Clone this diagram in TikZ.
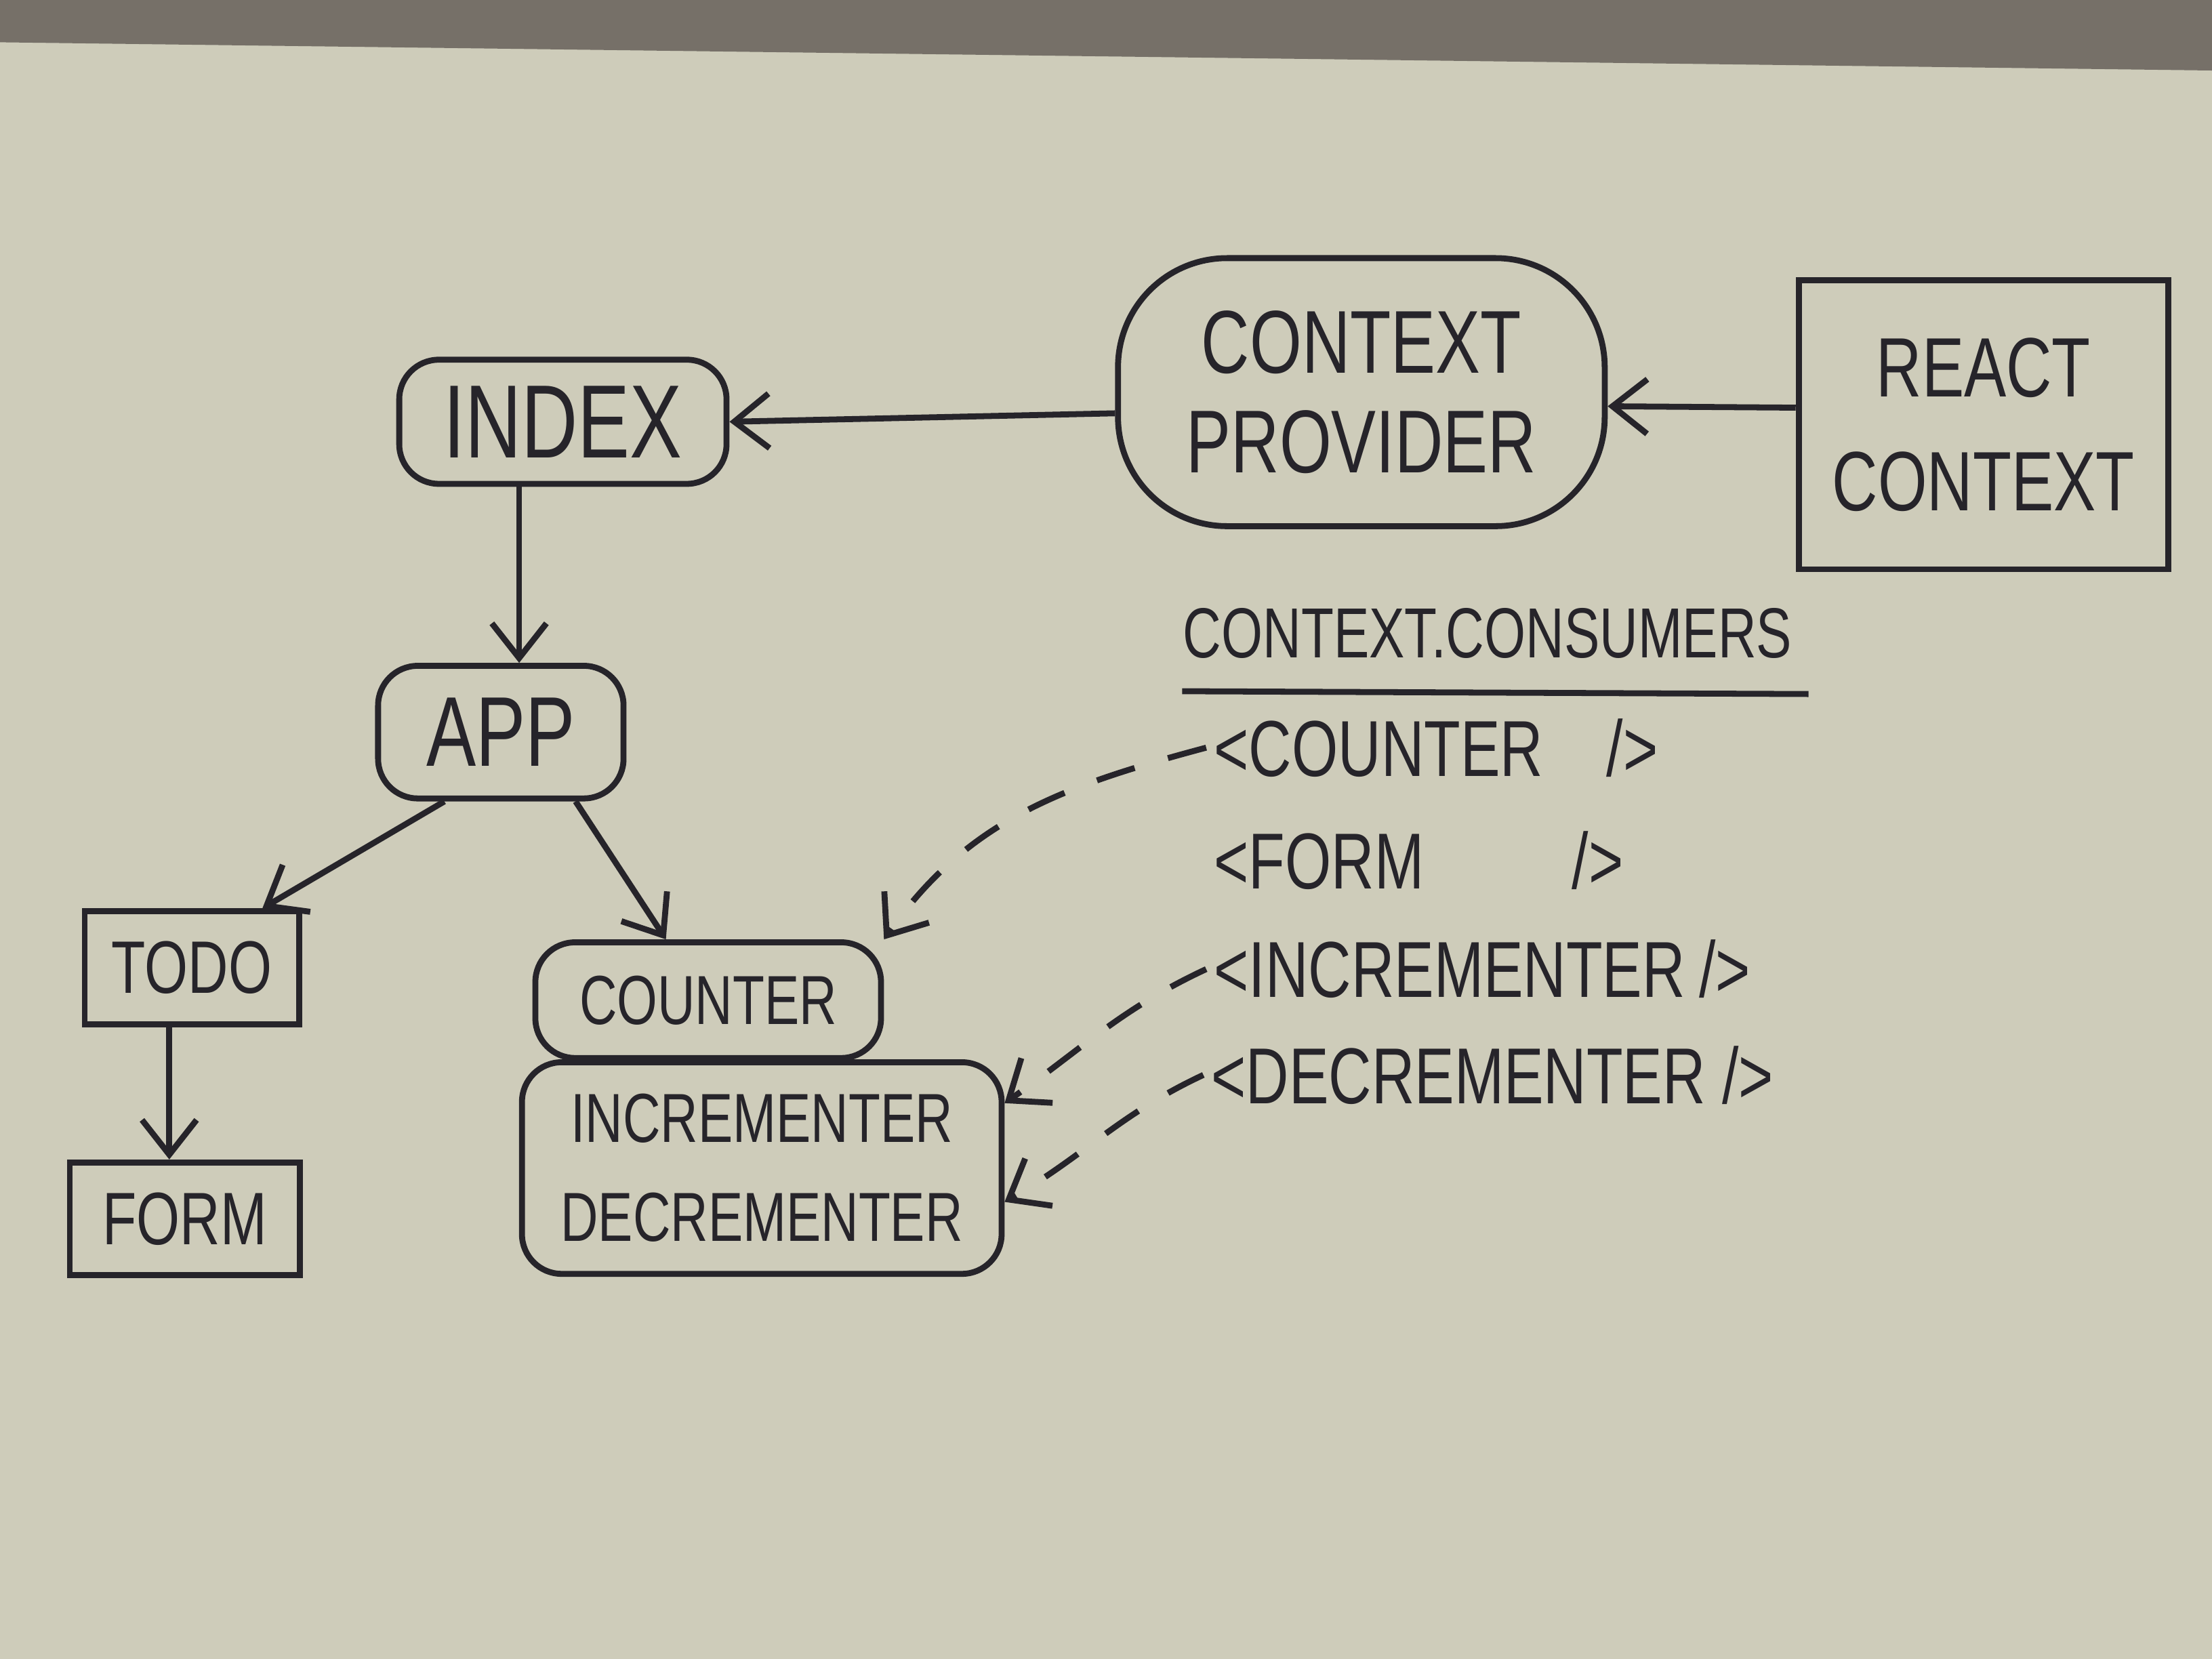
\documentclass[tikz,border=0pt]{standalone}
\usepackage{fontspec}
\setmainfont{Liberation Sans}[FakeStretch=0.75]
\usetikzlibrary{arrows.meta}
\definecolor{board}{RGB}{206,204,186}
\definecolor{frame}{RGB}{118,112,104}
\definecolor{ink}{RGB}{38,36,42}
\begin{document}
\begin{tikzpicture}[
  inkline/.style={draw=ink, line width=1.2pt},
  rbox/.style={inkline, rounded corners=8pt, inner sep=0pt, align=center, text=ink},
  sbox/.style={inkline, inner sep=0pt, align=center, text=ink},
  arr/.style={inkline, -{Straight Barb[length=7pt,width=11pt]}},
  darr/.style={arr, dash pattern=on 8pt off 7pt},
  item/.style={anchor=west, inner sep=0pt, text=ink, font=\fontsize{16}{18}\selectfont},
]
\fill[board] (0,0) rectangle (15.68,11.76);
\fill[frame] (0,11.76) -- (15.68,11.76) -- (15.68,11.26) -- (0,11.46) -- cycle;
\useasboundingbox (0,0) rectangle (15.68,11.76);

% nodes
\node[rbox, minimum width=2.32cm, minimum height=0.88cm, font=\fontsize{21}{24}\selectfont] (index) at (3.99,8.77) {INDEX};
\node[rbox, rounded corners=22pt, minimum width=3.45cm, minimum height=1.9cm, font=\fontsize{18}{20}\selectfont] (provider) at (9.65,8.98) {CONTEXT\\PROVIDER};
\node[sbox, minimum width=2.62cm, minimum height=2.05cm, font=\fontsize{17}{23}\selectfont] (react) at (14.06,8.75) {REACT\\CONTEXT};
\node[rbox, minimum width=1.74cm, minimum height=0.94cm, font=\fontsize{20}{22}\selectfont] (app) at (3.55,6.57) {APP};
\node[sbox, minimum width=1.52cm, minimum height=0.80cm, font=\fontsize{15}{17}\selectfont] (todo) at (1.36,4.90) {TODO};
\node[sbox, minimum width=1.63cm, minimum height=0.80cm, font=\fontsize{15}{17}\selectfont] (form) at (1.31,3.12) {FORM};
\node[rbox, minimum width=2.45cm, minimum height=0.82cm, font=\fontsize{14}{16}\selectfont] (counter) at (5.02,4.67) {COUNTER};
\node[rbox, minimum width=3.40cm, minimum height=1.50cm, font=\fontsize{14}{20}\selectfont] (incdec) at (5.40,3.48) {INCREMENTER\\DECREMENTER};

% consumers list
\node[anchor=west, inner sep=0pt, text=ink, font=\fontsize{14.3}{17}\selectfont] (title) at (8.38,7.27) {CONTEXT.CONSUMERS};
\coordinate (ulA) at (8.38,6.86);
\coordinate (ulB) at (12.82,6.84);
\draw[inkline] (ulA) -- (ulB);
\node[item] (c1) at (8.60,6.46) {<COUNTER\hspace{0.45cm}/>};
\node[item] (c2) at (8.60,5.66) {<FORM\hspace{1.05cm}/>};
\node[item] (c3) at (8.60,4.89) {<INCREMENTER\hspace{0.1cm}/>};
\node[item] (c4) at (8.58,4.14) {<DECREMENTER />};

% connectors
\draw[arr] ([yshift=0.12cm]react.west) -- ([yshift=-0.10cm]provider.east);
\draw[arr] ([yshift=-0.15cm]provider.west) -- (index.east);
\draw[arr] ([xshift=-0.31cm]index.south) -- ([xshift=0.13cm]app.north);
\draw[arr] ([xshift=-0.40cm]app.south) -- ([xshift=0.50cm]todo.north);
\draw[arr] ([xshift=0.53cm]app.south) -- ([xshift=-0.30cm]counter.north);
\draw[arr] ([xshift=-0.16cm]todo.south) -- ([xshift=-0.11cm]form.north);
\draw[darr] ([xshift=-0.05cm]c1.west) to[out=195,in=55] (counter.north east);
\draw[darr] ([xshift=-0.05cm]c3.west) to[out=205,in=35] ([yshift=0.46cm]incdec.east);
\draw[darr] ([xshift=-0.05cm]c4.west) to[out=205,in=30] ([yshift=-0.24cm]incdec.east);
\end{tikzpicture}
\end{document}
